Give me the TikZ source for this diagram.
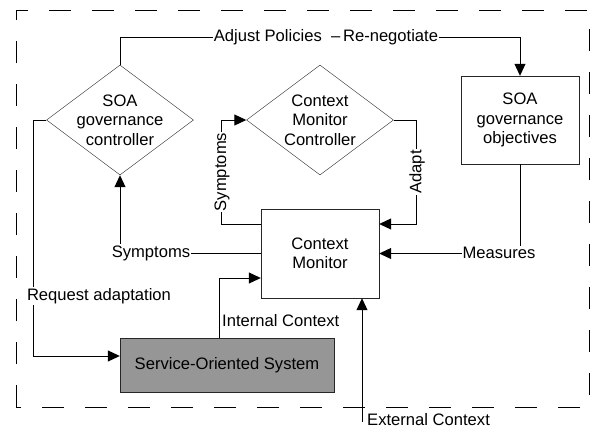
\documentclass[tikz,border=0pt]{standalone}
\usepackage{fontspec}
\setmainfont{Liberation Sans}
\usetikzlibrary{shapes,arrows.meta,positioning,calc}

\begin{document}
\begin{tikzpicture}[x=1pt,y=-1pt,
    every node/.style={font=\fontsize{16.6}{19.5}\selectfont, text=black},
    ctrl/.style={draw=black!85, diamond, minimum width=147pt, minimum height=110pt, inner sep=0pt},
    box/.style={draw=black!85, minimum width=118pt, minimum height=88pt, align=center},
    lbl/.style={fill=white, inner sep=1pt},
    arr/.style={line width=1pt, -{Triangle[length=12pt,width=11pt]}}]
  \useasboundingbox (0,0) rectangle (590,429);
  % system boundary
  \draw[line width=1pt, dash pattern=on 22pt off 21pt] (16,407) -- (16,10) -- (589,10) -- (589,407) -- cycle;

  % controllers and components
  \node[ctrl] (gc) at (120,120) {};
  \node[align=center] (gcText) at (gc) {SOA\\governance\\controller};
  \node[ctrl] (cmc) at (320,120) {};
  \node[align=center] (cmcText) at (cmc) {Context\\Monitor\\Controller};
  \node[box] (obj) at (520,120) {SOA\\governance\\objectives};
  \node[box, minimum height=89pt] (cm) at (320,253.5) {Context\\Monitor};
  \node[box, fill=black!41, minimum width=214pt, minimum height=54pt] (sos) at (227,365) {Service-Oriented System};

  \coordinate (topY) at (0,37);
  \coordinate (symY) at (0,224);
  \coordinate (intY) at (0,278);
  \coordinate (reqY) at (0,356);
  \coordinate (ext) at (362,422);

  % connectors
  \draw[arr] (gc.north) -- (gc.north |- topY) -| (obj.north);
  \draw[arr] (cm.west) -| (gc.south);
  \draw[arr] (cm.west |- symY) -| ([xshift=-25pt]cmc.west) -- (cmc.west);
  \draw[arr] (cmc.east) -- ++(23,0) |- (cm.east |- symY);
  \draw[arr] (obj.south) |- (cm.east);
  \draw[arr] ([xshift=-8pt]sos.north) |- (cm.west |- intY);
  \draw[arr] (ext) -- (ext |- cm.south);
  \draw[arr] (gc.west) -- ++(-13,0) |- (sos.west |- reqY);

  % labels
  \node[lbl] (adjLbl) at (326,37) {Adjust Policies\ \ --\,Re-negotiate};
  \node[lbl] (symLbl) at (151,253) {Symptoms};
  \node[lbl, rotate=90] (symLbl2) at (222,172) {Symptoms};
  \node[lbl, rotate=90] (adpLbl) at (417,172) {Adapt};
  \node[lbl] (measLbl) at (499,253) {Measures};
  \node[lbl] (reqLbl) at (99,296) {Request adaptation};
  \node[anchor=west, inner sep=1pt] (intLbl) at (221,321) {Internal Context};
  \node[anchor=west, inner sep=1pt] (extLbl) at (366,420) {External Context};
\end{tikzpicture}
\end{document}
